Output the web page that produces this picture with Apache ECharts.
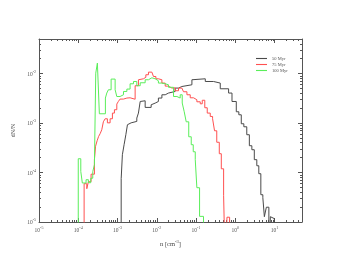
<!DOCTYPE html>
<html><head><meta charset="utf-8">
<script src="https://cdn.jsdelivr.net/npm/echarts@6/dist/echarts.min.js"></script>
<style>html,body{margin:0;padding:0;background:#fff}#c{width:339px;height:262px}</style>
</head><body><div id="c"></div>
<script>
// ---- data (n [cm^-3] at left bin edges, dN/N per bin; 1e-6 = empty bin) ----
const seriesNames = ['50 Myr', '75 Myr', '100 Myr'];
const blackN = [1.24e-3,1.24e-3,1.33e-3,1.47e-3,1.63e-3,1.79e-3,1.98e-3,2.22e-3,3.10e-3,3.41e-3,3.78e-3,4.17e-3,5.06e-3,7.19e-3,7.96e-3,9.10e-3,1.10e-2,1.35e-2,1.64e-2,1.99e-2,2.94e-2,3.58e-2,4.36e-2,7.85e-2,8.63e-2,0.172,0.279,0.414,0.675,0.824,1.06,1.23,1.42,1.65,1.96,2.28,2.64,3.05,3.53,3.97,4.47,5.03,5.50,6.18,7.16,7.82,8.79,9.88];
const blackV = [1e-6,7.5e-5,2.29e-4,3.65e-4,5.81e-4,9.25e-4,1.01e-3,1.08e-3,1.26e-3,1.59e-3,2.73e-3,2.82e-3,2.07e-3,2.34e-3,2.53e-3,2.73e-3,3.20e-3,3.73e-3,4.04e-3,4.35e-3,5.09e-3,5.48e-3,5.94e-3,7.50e-3,7.85e-3,6.92e-3,6.43e-3,4.93e-3,4.04e-3,2.73e-3,1.69e-3,1.47e-3,9.68e-4,8.41e-4,5.81e-4,3.48e-4,2.89e-4,1.82e-4,1.37e-4,9.47e-5,3.56e-5,3.10e-5,1.28e-5,1.99e-5,1e-6,1.28e-5,1.17e-5,1e-6];
const redN = [1.41e-4,1.41e-4,1.65e-4,1.81e-4,2.12e-4,2.58e-4,2.76e-4,3.02e-4,3.30e-4,3.60e-4,3.97e-4,4.36e-4,4.83e-4,5.52e-4,6.47e-4,7.41e-4,8.34e-4,9.59e-4,1.05e-3,1.16e-3,1.42e-3,1.73e-3,2.09e-3,2.81e-3,3.41e-3,3.78e-3,4.58e-3,5.27e-3,6.14e-3,7.50e-3,8.24e-3,9.48e-3,1.10e-2,1.35e-2,1.64e-2,1.99e-2,2.43e-2,2.94e-2,3.58e-2,4.36e-2,4.80e-2,5.86e-2,7.11e-2,8.63e-2,0.105,0.128,0.144,0.167,0.193,0.230,0.264,0.296,0.337,0.391,0.440,0.504,0.556,0.614,0.716];
const redV = [1e-6,5.94e-5,4.71e-5,6.52e-5,9.25e-5,1.82e-4,3.40e-4,4.38e-4,5.36e-4,6.08e-4,7.33e-4,1.06e-3,1.22e-3,1.01e-3,1.22e-3,1.59e-3,1.86e-3,2.42e-3,2.73e-3,3.05e-3,3.20e-3,3.24e-3,3.03e-3,5.68e-3,7.50e-3,7.85e-3,8.41e-3,9.47e-3,1.07e-2,9.77e-3,8.73e-3,7.85e-3,7.50e-3,6.43e-3,5.58e-3,5.09e-3,5.16e-3,4.50e-3,5.09e-3,4.82e-3,4.29e-3,3.73e-3,3.24e-3,2.96e-3,2.69e-3,2.45e-3,2.89e-3,2.04e-3,1.59e-3,1.36e-3,1.22e-3,6.98e-4,4.09e-4,2.40e-4,1.19e-4,3.40e-5,1e-6,1.25e-5,1e-6];
const greenN = [1.0e-4,1.0e-4,1.16e-4,1.27e-4,1.58e-4,1.81e-4,2.08e-4,2.34e-4,2.58e-4,2.79e-4,3.07e-4,3.45e-4,4.91e-4,5.33e-4,5.86e-4,6.87e-4,8.69e-4,9.59e-4,1.16e-3,1.42e-3,1.73e-3,2.09e-3,2.55e-3,3.10e-3,3.78e-3,5.06e-3,6.14e-3,7.50e-3,9.10e-3,1.10e-2,1.35e-2,1.64e-2,1.99e-2,2.67e-2,3.26e-2,3.95e-2,4.45e-2,5.00e-2,5.62e-2,6.52e-2,7.55e-2,8.49e-2,9.55e-2,0.105,0.123,0.155];
const greenV = [1e-6,1.90e-4,1.05e-4,6.14e-5,7.16e-5,6.22e-5,7.67e-5,1.04e-4,1.44e-4,1.02e-2,1.63e-2,1.54e-3,3.20e-3,4.04e-3,4.71e-3,7.74e-3,4.71e-3,3.44e-3,3.73e-3,4.35e-3,4.86e-3,6.22e-3,6.92e-3,5.68e-3,6.52e-3,7.50e-3,8.22e-3,7.85e-3,7.16e-3,6.43e-3,6.22e-3,5.94e-3,5.28e-3,3.44e-3,3.20e-3,3.73e-3,2.54e-3,1.69e-3,1.06e-3,5.28e-4,3.65e-4,2.63e-4,1.82e-4,4.93e-5,1.30e-5,1e-6];

// ---- axes ----
const xMin = 1e-5, xMax = 50, yMin = 1e-5, yMax = 5e-2;
const xMajor = [1e-5,1e-4,1e-3,1e-2,1e-1,1,10];
const xMajorExp = ['-5','-4','-3','-2','-1','0','1'];
const yMajor = [1e-5,1e-4,1e-3,1e-2];
const yMajorExp = ['-5','-4','-3','-2'];
const mult = [2,3,4,5,6,7,8,9];

function minorTicks(major, lo, hi) {
  const out = [];
  major.concat([major[major.length-1]*10]).forEach(d => mult.forEach(m => { const v = d*m; if (v > lo*1.0001 && v < hi*0.9999) out.push(v); }));
  return out;
}
const xMinor = minorTicks(xMajor, xMin, xMax);
const yMinor = minorTicks(yMajor, yMin, yMax);

const axisColor = '#555';
const font = 'Liberation Serif';
const rich = {
  b: {fontFamily: font, fontSize: 5.5, color: '#555', lineHeight: 8, verticalAlign: 'bottom'},
  s: {fontFamily: font, fontSize: 4, color: '#555', lineHeight: 4, verticalAlign: 'top'}
};
function expLabel(list, exps) {
  return function (v) {
    let best = 0, bd = 1e9;
    list.forEach((t, i) => { const d = Math.abs(Math.log10(t) - Math.log10(v)); if (d < bd) { bd = d; best = i; } });
    return '{b|10}{s|' + exps[best] + '}';
  };
}

function xAx(pos, major, showLine, showLabel) {
  return {
    type: 'log', logBase: 10, min: xMin, max: xMax, position: pos, gridIndex: 0,
    axisLine: {show: showLine, onZero: false, lineStyle: {color: axisColor, width: 1}},
    axisTick: {show: true, inside: true, length: major ? 4 : 2, customValues: major ? xMajor : xMinor, lineStyle: {color: axisColor, width: 1}},
    axisLabel: {show: showLabel, customValues: xMajor, margin: 4, formatter: expLabel(xMajor, xMajorExp), rich: rich},
    minorTick: {show: false}, splitLine: {show: false}
  };
}
function yAx(pos, major, showLine, showLabel) {
  return {
    type: 'log', logBase: 10, min: yMin, max: yMax, position: pos, gridIndex: 0,
    axisLine: {show: showLine, onZero: false, lineStyle: {color: axisColor, width: 1}},
    axisTick: {show: true, inside: true, length: major ? 4 : 2, customValues: major ? yMajor : yMinor, lineStyle: {color: axisColor, width: 1}},
    axisLabel: {show: showLabel, customValues: yMajor, margin: 3, formatter: expLabel(yMajor, yMajorExp), rich: rich},
    minorTick: {show: false}, splitLine: {show: false}
  };
}

const xAxes = [xAx('bottom', true, true, true), xAx('bottom', false, false, false), xAx('top', true, true, false), xAx('top', false, false, false)];
xAxes[0].name = '{a|n [cm}{s|-3}{a|]}';
xAxes[0].nameLocation = 'middle';
xAxes[0].nameGap = 17;
xAxes[0].nameTextStyle = {rich: {a: {fontFamily: font, fontSize: 6.5, color: '#444', lineHeight: 9, verticalAlign: 'bottom'}, s: {fontFamily: font, fontSize: 4.5, color: '#444', lineHeight: 5, verticalAlign: 'top'}}};
const yAxes = [yAx('left', true, true, true), yAx('left', false, false, false), yAx('right', true, true, false), yAx('right', false, false, false)];
yAxes[0].name = 'dN/N';
yAxes[0].nameLocation = 'middle';
yAxes[0].nameGap = 19;
yAxes[0].nameTextStyle = {fontFamily: font, fontSize: 6, color: '#444'};

function pairs(n, v) { return n.map((x, i) => [x, v[i]]); }
const colors = ['#4a4a4a', '#ff5050', '#5aee5a'];
const dataSets = [pairs(blackN, blackV), pairs(redN, redV), pairs(greenN, greenV)];

const chart = echarts.init(document.getElementById('c'), null, {renderer: 'canvas'});
chart.setOption({
  animation: false,
  backgroundColor: '#fff',
  grid: {left: 39, right: 37, top: 39, bottom: 40, containLabel: false},
  xAxis: xAxes,
  yAxis: yAxes,
  legend: {
    orient: 'vertical', left: 251, top: 51, itemWidth: 11, itemHeight: 7, itemGap: 1,
    icon: 'path://M0,3L10,3L10,4L0,4Z',
    textStyle: {fontFamily: font, fontSize: 4.5, color: '#555'},
    data: seriesNames.map((nm, i) => ({name: nm, itemStyle: {color: colors[i]}}))
  },
  series: dataSets.map((d, i) => ({
    name: seriesNames[i], type: 'line', step: 'end', symbol: 'none', clip: true,
    xAxisIndex: 0, yAxisIndex: 0, data: d,
    lineStyle: {color: colors[i], width: 1}, itemStyle: {color: colors[i]}
  }))
});
</script></body></html>
